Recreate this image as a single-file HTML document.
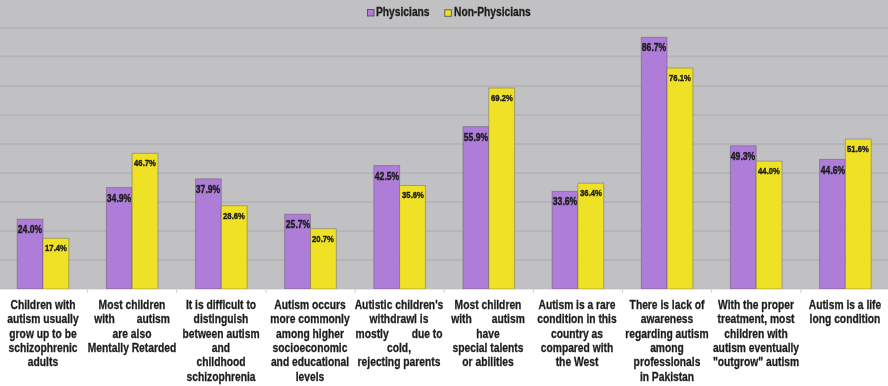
<!DOCTYPE html>
<html><head><meta charset="utf-8"><style>
*{margin:0;padding:0;box-sizing:border-box}
html,body{width:888px;height:386px;overflow:hidden;background:#fff}
body{position:relative;font-family:"Liberation Sans",sans-serif;font-weight:bold;color:#1c1c1c}
svg{position:absolute;left:0;top:0}
.v{position:absolute;font-size:9.5px;line-height:1;white-space:nowrap;text-align:center;width:60px;transform:scaleX(0.880);transform-origin:center top}
.l{position:absolute;font-size:13.0px;line-height:14.4px;white-space:nowrap;text-align:center;width:130px;transform:scaleX(0.790);transform-origin:center top}
.l,.v,.lg{filter:blur(0.4px)}
.v{-webkit-text-stroke:0.4px currentColor}
.l,.lg{-webkit-text-stroke:0.3px currentColor}
.sp{display:flex;justify-content:space-between;margin:0 auto}
.lg{position:absolute;font-size:12px;line-height:1;white-space:nowrap;transform-origin:left top}
</style></head><body>
<svg width="888" height="386" viewBox="0 0 888 386">
<defs><filter id="bl" x="-5%" y="-5%" width="110%" height="110%"><feGaussianBlur stdDeviation="0.35"/></filter></defs>
<rect x="0" y="0" width="888" height="289.0" fill="#C1C1C3"/>
<g filter="url(#bl)">

<rect x="0" y="259.1" width="888" height="2" fill="#B5B5B7"/>
<rect x="0" y="230.1" width="888" height="2" fill="#B5B5B7"/>
<rect x="0" y="201.1" width="888" height="2" fill="#B5B5B7"/>
<rect x="0" y="172.1" width="888" height="2" fill="#B5B5B7"/>
<rect x="0" y="143.1" width="888" height="2" fill="#B5B5B7"/>
<rect x="0" y="114.1" width="888" height="2" fill="#B5B5B7"/>
<rect x="0" y="85.1" width="888" height="2" fill="#B5B5B7"/>
<rect x="0" y="55.4" width="888" height="2" fill="#B5B5B7"/>
<rect x="0" y="27.1" width="888" height="2" fill="#B5B5B7"/>
<rect x="17.20" y="219.15" width="25.80" height="69.85" fill="#AD7DD7" stroke="rgba(70,60,70,.35)" stroke-width="1"/>
<rect x="43.00" y="238.29" width="25.80" height="50.71" fill="#EFE226" stroke="rgba(70,60,70,.35)" stroke-width="1"/>
<rect x="106.35" y="187.54" width="25.80" height="101.46" fill="#AD7DD7" stroke="rgba(70,60,70,.35)" stroke-width="1"/>
<rect x="132.15" y="153.32" width="25.80" height="135.68" fill="#EFE226" stroke="rgba(70,60,70,.35)" stroke-width="1"/>
<rect x="195.50" y="178.84" width="25.80" height="110.16" fill="#AD7DD7" stroke="rgba(70,60,70,.35)" stroke-width="1"/>
<rect x="221.30" y="205.81" width="25.80" height="83.19" fill="#EFE226" stroke="rgba(70,60,70,.35)" stroke-width="1"/>
<rect x="284.65" y="214.22" width="25.80" height="74.78" fill="#AD7DD7" stroke="rgba(70,60,70,.35)" stroke-width="1"/>
<rect x="310.45" y="228.72" width="25.80" height="60.28" fill="#EFE226" stroke="rgba(70,60,70,.35)" stroke-width="1"/>
<rect x="373.80" y="165.50" width="25.80" height="123.50" fill="#AD7DD7" stroke="rgba(70,60,70,.35)" stroke-width="1"/>
<rect x="399.60" y="185.51" width="25.80" height="103.49" fill="#EFE226" stroke="rgba(70,60,70,.35)" stroke-width="1"/>
<rect x="462.95" y="126.64" width="25.80" height="162.36" fill="#AD7DD7" stroke="rgba(70,60,70,.35)" stroke-width="1"/>
<rect x="488.75" y="88.07" width="25.80" height="200.93" fill="#EFE226" stroke="rgba(70,60,70,.35)" stroke-width="1"/>
<rect x="552.10" y="191.31" width="25.80" height="97.69" fill="#AD7DD7" stroke="rgba(70,60,70,.35)" stroke-width="1"/>
<rect x="577.90" y="183.19" width="25.80" height="105.81" fill="#EFE226" stroke="rgba(70,60,70,.35)" stroke-width="1"/>
<rect x="641.25" y="37.32" width="25.80" height="251.68" fill="#AD7DD7" stroke="rgba(70,60,70,.35)" stroke-width="1"/>
<rect x="667.05" y="68.06" width="25.80" height="220.94" fill="#EFE226" stroke="rgba(70,60,70,.35)" stroke-width="1"/>
<rect x="730.40" y="145.78" width="25.80" height="143.22" fill="#AD7DD7" stroke="rgba(70,60,70,.35)" stroke-width="1"/>
<rect x="756.20" y="161.15" width="25.80" height="127.85" fill="#EFE226" stroke="rgba(70,60,70,.35)" stroke-width="1"/>
<rect x="819.55" y="159.41" width="25.80" height="129.59" fill="#AD7DD7" stroke="rgba(70,60,70,.35)" stroke-width="1"/>
<rect x="845.35" y="139.11" width="25.80" height="149.89" fill="#EFE226" stroke="rgba(70,60,70,.35)" stroke-width="1"/>
</g>
<rect x="0" y="289" width="888" height="97" fill="#fff"/><rect x="0" y="289" width="888" height="1" fill="#e4e4e4"/>
<rect x="87.1" y="289" width="1" height="4" fill="#d2d2d2"/>
<rect x="176.2" y="289" width="1" height="4" fill="#d2d2d2"/>
<rect x="265.4" y="289" width="1" height="4" fill="#d2d2d2"/>
<rect x="354.5" y="289" width="1" height="4" fill="#d2d2d2"/>
<rect x="443.7" y="289" width="1" height="4" fill="#d2d2d2"/>
<rect x="532.8" y="289" width="1" height="4" fill="#d2d2d2"/>
<rect x="622.0" y="289" width="1" height="4" fill="#d2d2d2"/>
<rect x="711.1" y="289" width="1" height="4" fill="#d2d2d2"/>
<rect x="800.3" y="289" width="1" height="4" fill="#d2d2d2"/>
<rect x="889.4" y="289" width="1" height="4" fill="#d2d2d2"/>
</svg>
<div class="v" style="left:0.1px;top:224.3px;font-size:10.5px;transform:scaleX(0.815)">24.0%</div>
<div class="v" style="left:25.9px;top:243.2px;font-size:9.5px;transform:scaleX(0.810)">17.4%</div>
<div class="l" style="left:-22.5px;top:297.7px"><div>Children with</div><div>autism usually</div><div>grow up to be</div><div>schizophrenic</div><div>adults</div></div>
<div class="v" style="left:89.3px;top:192.7px;font-size:10.5px;transform:scaleX(0.815)">34.9%</div>
<div class="v" style="left:115.1px;top:158.2px;font-size:9.5px;transform:scaleX(0.810)">46.7%</div>
<div class="l" style="left:66.7px;top:297.7px"><div>Most children</div><div class="sp" style="width:95.8px"><span>with</span><span>autism</span></div><div>are also</div><div>Mentally Retarded</div></div>
<div class="v" style="left:178.4px;top:184.0px;font-size:10.5px;transform:scaleX(0.815)">37.9%</div>
<div class="v" style="left:204.2px;top:210.7px;font-size:9.5px;transform:scaleX(0.810)">28.6%</div>
<div class="l" style="left:155.8px;top:297.7px"><div>It is difficult to</div><div>distinguish</div><div>between autism</div><div>and</div><div>childhood</div><div>schizophrenia</div></div>
<div class="v" style="left:267.6px;top:219.3px;font-size:10.5px;transform:scaleX(0.815)">25.7%</div>
<div class="v" style="left:293.4px;top:233.6px;font-size:9.5px;transform:scaleX(0.810)">20.7%</div>
<div class="l" style="left:245.0px;top:297.7px"><div>Autism occurs</div><div>more commonly</div><div>among higher</div><div>socioeconomic</div><div>and educational</div><div>levels</div></div>
<div class="v" style="left:356.7px;top:170.6px;font-size:10.5px;transform:scaleX(0.815)">42.5%</div>
<div class="v" style="left:382.5px;top:190.4px;font-size:9.5px;transform:scaleX(0.810)">35.6%</div>
<div class="l" style="left:334.1px;top:297.7px"><div>Autistic children's</div><div>withdrawl is</div><div class="sp" style="width:110.0px"><span>mostly</span><span>due to</span></div><div>cold,</div><div>rejecting parents</div></div>
<div class="v" style="left:445.8px;top:131.8px;font-size:10.5px;transform:scaleX(0.815)">55.9%</div>
<div class="v" style="left:471.6px;top:92.9px;font-size:9.5px;transform:scaleX(0.810)">69.2%</div>
<div class="l" style="left:423.2px;top:297.7px"><div>Most children</div><div class="sp" style="width:93.2px"><span>with</span><span>autism</span></div><div>have</div><div>special talents</div><div>or abilities</div></div>
<div class="v" style="left:535.0px;top:196.4px;font-size:10.5px;transform:scaleX(0.815)">33.6%</div>
<div class="v" style="left:560.8px;top:188.1px;font-size:9.5px;transform:scaleX(0.810)">36.4%</div>
<div class="l" style="left:512.4px;top:297.7px"><div>Autism is a rare</div><div>condition in this</div><div>country as</div><div>compared with</div><div>the West</div></div>
<div class="v" style="left:624.2px;top:42.4px;font-size:10.5px;transform:scaleX(0.815)">86.7%</div>
<div class="v" style="left:650.0px;top:72.9px;font-size:9.5px;transform:scaleX(0.810)">76.1%</div>
<div class="l" style="left:601.6px;top:297.7px"><div>There is lack of</div><div>awareness</div><div>regarding autism</div><div>among</div><div>professionals</div><div>in Pakistan</div></div>
<div class="v" style="left:713.3px;top:150.9px;font-size:10.5px;transform:scaleX(0.815)">49.3%</div>
<div class="v" style="left:739.1px;top:166.0px;font-size:9.5px;transform:scaleX(0.810)">44.0%</div>
<div class="l" style="left:690.7px;top:297.7px"><div>With the proper</div><div>treatment, most</div><div>children with</div><div>autism eventually</div><div>&quot;outgrow&quot; autism</div></div>
<div class="v" style="left:802.5px;top:164.5px;font-size:10.5px;transform:scaleX(0.815)">44.6%</div>
<div class="v" style="left:828.2px;top:144.0px;font-size:9.5px;transform:scaleX(0.810)">51.6%</div>
<div class="l" style="left:779.9px;top:297.7px"><div>Autism is a life</div><div>long condition</div></div>
<svg width="888" height="30" style="position:absolute;left:0;top:0"><rect x="367.5" y="9.5" width="6.5" height="6.5" fill="#AD7DD7" stroke="rgba(50,50,50,.7)" stroke-width="1"/><rect x="444.8" y="9.8" width="6.5" height="6.5" fill="#EFE226" stroke="rgba(50,50,50,.7)" stroke-width="1"/></svg>
<div class="lg" style="left:376.2px;top:6.1px;transform:scaleX(0.854)">Physicians</div>
<div class="lg" style="left:453.7px;top:6.1px;transform:scaleX(0.852)">Non-Physicians</div>
</body></html>
